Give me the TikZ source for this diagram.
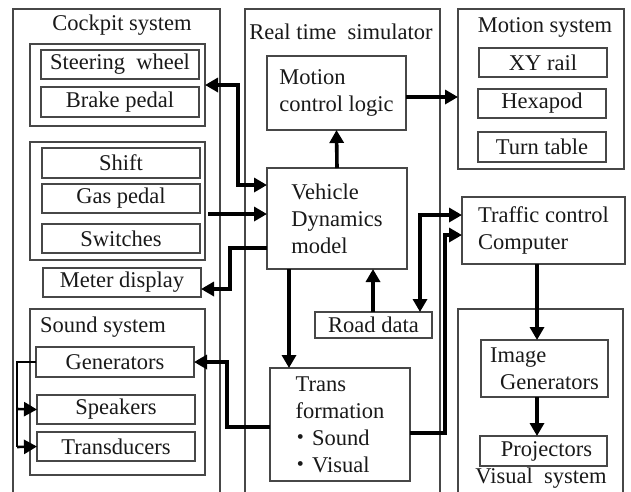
\documentclass[tikz,border=0pt]{standalone}
\usepackage{fontspec}
\setmainfont{Liberation Serif}
\newfontfamily\cjk{Noto Sans CJK JP}
\usetikzlibrary{arrows.meta}
\begin{document}
\begin{tikzpicture}[x=1pt,y=-1pt,
  box/.style={draw=black!72, line width=1.4pt, anchor=north west, inner sep=0pt, outer sep=0pt, text=black!90, font=\fontsize{22.5}{27}\selectfont},
  lbl/.style={inner sep=0pt, text=black!90, font=\fontsize{22.5}{27}\selectfont},
  arr/.style={line width=3.6pt, line join=miter, -{Triangle[length=13pt,width=14pt]}},
  darr/.style={line width=3.6pt, line join=miter, {Triangle[length=13pt,width=14pt]}-{Triangle[length=13pt,width=14pt]}}
]
\useasboundingbox (0,0) rectangle (631,491);
\fill[white] (0,0) rectangle (631,491);
\clip (0,0) rectangle (631,491);
% containers
\node[box, minimum width=207pt, minimum height=500pt] (cockpit) at (13,9) {};
\node[lbl] (cockpitT) at (122,25) {Cockpit system};
\node[box, minimum width=175pt, minimum height=82pt] (inner1) at (30,44) {};
\node[box, minimum width=158pt, minimum height=29pt] (steer) at (41,50) {Steering\ \ wheel};
\node[box, minimum width=158pt, minimum height=30pt] (brake) at (41,87) {Brake pedal};
\node[box, minimum width=175pt, minimum height=118pt] (inner2) at (30,142) {};
\node[box, minimum width=158pt, minimum height=30pt] (shift) at (42,148) {Shift};
\node[box, minimum width=158pt, minimum height=29pt] (gas) at (42,184) {Gas pedal};
\node[box, minimum width=158pt, minimum height=29pt] (switches) at (42,224) {Switches};
\node[box, minimum width=158pt, minimum height=29pt] (meter) at (43,268) {Meter display};
\node[box, minimum width=175pt, minimum height=166pt] (sound) at (30,309) {};
\node[lbl, anchor=west] (soundT) at (40,327) {Sound system};
\node[box, minimum width=158pt, minimum height=30pt] (gen) at (36,347) {Generators};
\node[box, minimum width=158pt, minimum height=29pt] (spk) at (37,395) {Speakers};
\node[box, minimum width=158pt, minimum height=29pt] (trd) at (37,432) {Transducers};
% real time simulator
\node[box, minimum width=195pt, minimum height=500pt] (rts) at (245,9) {};
\node[lbl] (rtsT) at (341,32) {Real time\ \ simulator};
\node[box, minimum width=139pt, minimum height=74pt, align=left] (mcl) at (267,56) {Motion\\control logic};
\node[box, minimum width=140pt, minimum height=101pt, align=left] (vdm) at (267,168) {Vehicle\\Dynamics\\model};
\node[box, minimum width=117pt, minimum height=26pt] (road) at (315,312) {Road data};
\node[box, minimum width=140pt, minimum height=113pt, align=left] (trans) at (270,368) {Trans\\formation\\\hspace*{-6pt}{\cjk ・}Sound\\\hspace*{-6pt}{\cjk ・}Visual};
% motion system
\node[box, minimum width=166pt, minimum height=160pt] (motion) at (458,9) {};
\node[lbl] (motionT) at (545,27) {Motion system};
\node[box, minimum width=128pt, minimum height=29pt] (xy) at (479,48) {XY rail};
\node[box, minimum width=128pt, minimum height=29pt] (hexa) at (478,89) {Hexapod};
\node[box, minimum width=128pt, minimum height=30pt] (turn) at (478,132) {Turn table};
% traffic
\node[box, minimum width=163pt, minimum height=67pt, align=left] (traffic) at (462,197) {Traffic control\\Computer};
% visual system
\node[box, minimum width=165pt, minimum height=500pt] (visual) at (458,309) {};
\node[box, minimum width=127pt, minimum height=57pt, align=left] (ig) at (481,340) {Image\\\hspace*{10pt}Generators};
\node[box, minimum width=127pt, minimum height=30pt] (proj) at (480,436) {\hspace*{6pt}Projectors};
\node[lbl] (visualT) at (541,478) {Visual\ \ system};
% connectors
\draw[darr] (inner1.east |- 0,85) -- (238,85) -- (238,185) -- (vdm.west |- 0,185);
\draw[arr] (208,214) -- (vdm.west |- 0,214);
\draw[arr] (vdm.west |- 0,248) -- (230,248) -- (230,289) -- (meter.east |- 0,289);
\draw[arr] (vdm.north) -- (mcl.south);
\draw[arr] (mcl.east |- 0,97) -- (motion.west |- 0,97);
\draw[arr] (vdm.south -| 289,0) -- (trans.north -| 289,0);
\draw[arr] (road.north -| 373,0) -- (vdm.south -| 373,0);
\draw[darr] (road.north -| 420,0) -- (420,215) -- (traffic.west |- 0,215);
\draw[arr] (trans.east |- 0,433) -- (445,433) -- (445,235) -- (traffic.west |- 0,235);
\draw[arr] (trans.west |- 0,427) -- (227,427) -- (227,362) -- (gen.east |- 0,362);
\draw[arr] (traffic.south -| 537,0) -- (ig.north -| 537,0);
\draw[arr] (ig.south -| 537,0) -- (proj.north -| 537,0);
\draw[line width=2.6pt] (gen.west) -- (17,362) -- (17,447);
\draw[arr, line width=2.6pt] (17,447) -- (trd.west);
\draw[arr, line width=2.6pt] (17,409) -- (spk.west);
\end{tikzpicture}
\end{document}
